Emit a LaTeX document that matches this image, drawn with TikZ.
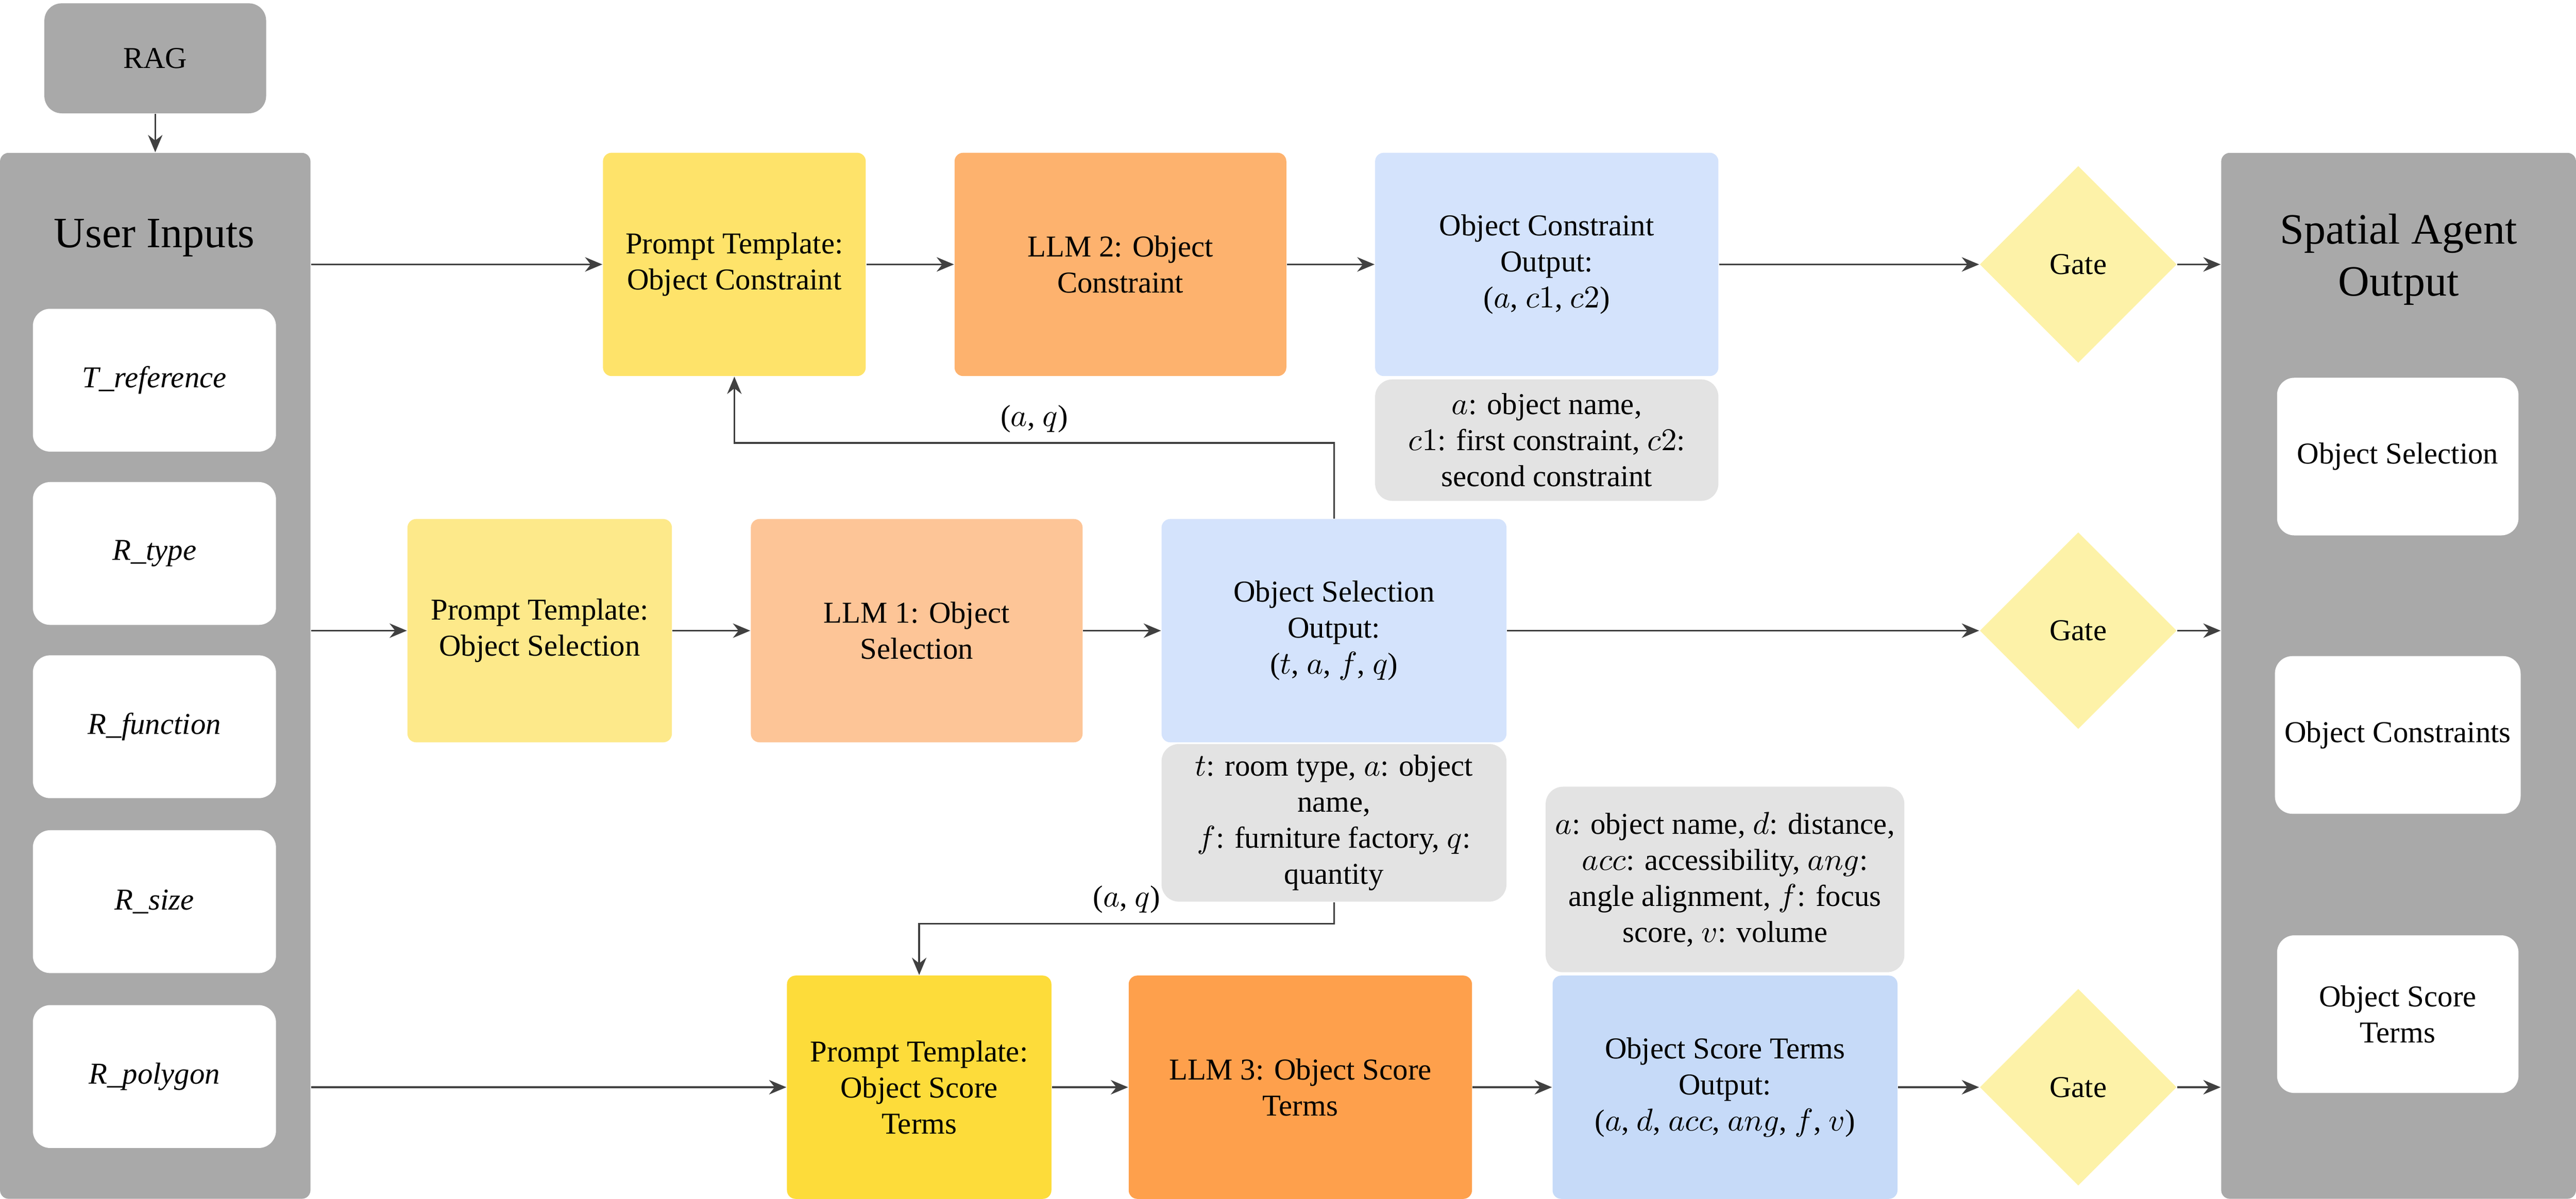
\documentclass[tikz,border=0pt]{standalone}
\usepackage{fontspec}
\setmainfont{Liberation Serif}
\usetikzlibrary{shapes.geometric,arrows.meta}
\definecolor{panelgray}{HTML}{A9A9A9}
\definecolor{notegray}{HTML}{E3E3E3}
\definecolor{yelA}{HTML}{FEE36A}
\definecolor{yelB}{HTML}{FDE98A}
\definecolor{yelC}{HTML}{FDDC3A}
\definecolor{orA}{HTML}{FDB26E}
\definecolor{orB}{HTML}{FDC597}
\definecolor{orC}{HTML}{FEA04C}
\definecolor{bluA}{HTML}{D4E3FC}
\definecolor{bluC}{HTML}{C6DAF8}
\definecolor{gatey}{HTML}{FDF2A8}
\tikzset{
  box/.style={rectangle,rounded corners=3pt,minimum height=2.72cm,align=center,
    font=\fontsize{10.5}{12.5}\selectfont},
  note/.style={box,fill=notegray,rounded corners=6pt},
  slot/.style={box,fill=white,rounded corners=6pt,minimum height=1.74cm,minimum width=2.96cm},
  outslot/.style={slot,minimum height=1.92cm,minimum width=2.94cm},
  panel/.style={rectangle,fill=panelgray,rounded corners=3pt,minimum height=12.74cm},
  gate/.style={diamond,fill=gatey,minimum size=2.4cm,inner sep=0pt,
    font=\fontsize{10.5}{12.5}\selectfont},
  arr/.style={-{Stealth[length=6pt,width=5pt]},draw=black!75,line width=0.6pt}
}
\begin{document}
\begin{tikzpicture}[x=0.02cm,y=-0.02cm]
\useasboundingbox (0,0) rectangle (1568,730);
% side panels
\node[box,fill=panelgray,minimum width=2.7cm,minimum height=1.34cm,rounded corners=6pt] (rag) at (94.5,35.5) {RAG};
\node[panel,minimum width=3.78cm] (user) at (94.5,411.5) {};
\node[font=\fontsize{15}{18}\selectfont] at (94,145) {User Inputs};
\node[slot] (tref) at (94,231.5) {\itshape T\_reference};
\node[slot] (rtype) at (94,337) {\itshape R\_type};
\node[slot] (rfunc) at (94,442.5) {\itshape R\_function};
\node[slot] (rsize) at (94,549) {\itshape R\_size};
\node[slot] (rpoly) at (94,655.5) {\itshape R\_polygon};
\node[panel,minimum width=4.32cm] (sao) at (1460,411.5) {};
\node[font=\fontsize{15}{18}\selectfont,align=center] at (1460,158) {Spatial Agent\\Output};
\node[outslot] (osel) at (1459.5,278) {Object Selection};
\node[outslot] (ocon) at (1459.5,447.5) {Object Constraints};
\node[outslot] (oscore) at (1459.5,617.5) {Object Score\\Terms};
% row 1
\node[box,fill=yelA,minimum width=3.2cm] (ptc) at (447,161) {Prompt Template:\\Object Constraint};
\node[box,fill=orA,minimum width=4.04cm] (llm2) at (682,161) {LLM 2: Object\\Constraint};
\node[box,fill=bluA,minimum width=4.18cm] (outc) at (941.5,161) {Object Constraint\\Output:\\($a$, $c1$, $c2$)};
\node[note,minimum width=4.18cm,minimum height=1.48cm] (notec) at (941.5,268) {$a$: object name,\\$c1$: first constraint, $c2$:\\second constraint};
\node[gate] (gc) at (1265,161) {Gate};
% row 2
\node[box,fill=yelB,minimum width=3.22cm] (pts) at (328.5,384) {Prompt Template:\\Object Selection};
\node[box,fill=orB,minimum width=4.04cm] (llm1) at (558,384) {LLM 1: Object\\Selection};
\node[box,fill=bluA,minimum width=4.2cm] (outs) at (812,384) {Object Selection\\Output:\\($t$, $a$, $f$, $q$)};
\node[note,minimum width=4.2cm,minimum height=1.92cm] (notes) at (812,501) {$t$: room type, $a$: object\\name,\\$f$: furniture factory, $q$:\\quantity};
\node[gate] (gs) at (1265,384) {Gate};
% row 3
\node[box,fill=yelC,minimum width=3.22cm] (ptt) at (559.5,662) {Prompt Template:\\Object Score\\Terms};
\node[box,fill=orC,minimum width=4.18cm] (llm3) at (791.5,662) {LLM 3: Object Score\\Terms};
\node[box,fill=bluC,minimum width=4.2cm] (outt) at (1050,662) {Object Score Terms\\Output:\\($a$, $d$, $acc$, $ang$, $f$, $v$)};
\node[note,minimum width=4.2cm,minimum height=2.26cm] (notet) at (1050,535.5) {$a$: object name, $d$: distance,\\$acc$: accessibility, $ang$:\\angle alignment, $f$: focus\\score, $v$: volume};
\node[gate] (gt) at (1265,662) {Gate};
% connectors
\draw[arr] (rag) -- (user.north -| rag);
\draw[arr] (user.east |- ptc) -- (ptc);
\draw[arr] (ptc) -- (llm2);
\draw[arr] (llm2) -- (outc);
\draw[arr] (outc) -- (gc);
\draw[arr] (gc) -- (sao.west |- gc);
\draw[arr] (user.east |- pts) -- (pts);
\draw[arr] (pts) -- (llm1);
\draw[arr] (llm1) -- (outs);
\draw[arr] (outs) -- (gs);
\draw[arr] (gs) -- (sao.west |- gs);
\draw[arr] (user.east |- ptt) -- (ptt);
\draw[arr] (ptt) -- (llm3);
\draw[arr] (llm3) -- (outt);
\draw[arr] (outt) -- (gt);
\draw[arr] (gt) -- (sao.west |- gt);
% feedback
\draw[arr] (outs.north) -- ++(0,-46) -| node[pos=0.25,above,font=\fontsize{10.5}{12.5}\selectfont] {($a$, $q$)} (ptc.south);
\draw[arr] (notes.south) -- ++(0,13) -| node[pos=0.25,above,font=\fontsize{10.5}{12.5}\selectfont] {($a$, $q$)} (ptt.north);
\end{tikzpicture}
\end{document}
